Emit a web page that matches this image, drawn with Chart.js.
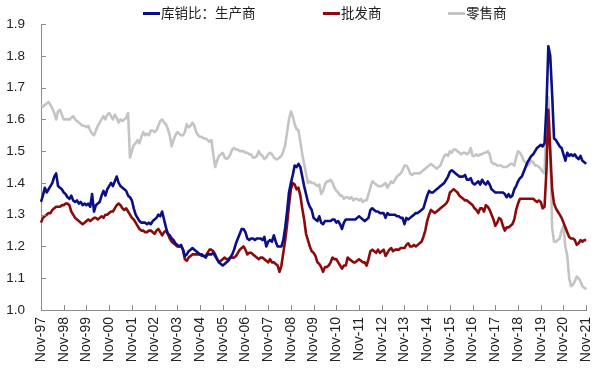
<!DOCTYPE html>
<html>
<head>
<meta charset="utf-8">
<script src="https://cdn.jsdelivr.net/npm/chart.js@4.4.1/dist/chart.umd.min.js"></script>
<style>
  body { margin: 0; background: #fff; }
  #wrap { position: relative; width: 610px; height: 372px; }
  #legend { position: absolute; left: 0; top: 4px; width: 610px; height: 18px;
            font-family: "Noto Sans CJK SC", sans-serif; font-size: 13.5px; color: #222; }
  .item { position: absolute; top: 0; display: flex; align-items: center; height: 18px; line-height: 1; }
  .item i { display: inline-block; width: 17px; height: 3px; margin-right: 1px; }
</style>
</head>
<body>
<div id="wrap">
  <canvas id="myChart" width="610" height="372"></canvas>
  <div id="legend"></div>
</div>
<script>
// monthly, Nov-97 .. Nov-21
const startYear = 1997;
const monthNames = ["Jan","Feb","Mar","Apr","May","Jun","Jul","Aug","Sep","Oct","Nov","Dec"];
const seriesNames = ["库销比：生产商", "批发商", "零售商"];
const yTicks = [1.0, 1.1, 1.2, 1.3, 1.4, 1.5, 1.6, 1.7, 1.8, 1.9];

const producer = [
  1.34,1.36,1.385,1.37,1.38,1.39,1.40,1.42,1.43,1.39,1.385,1.38,
  1.37,1.365,1.355,1.35,1.36,1.345,1.34,1.345,1.335,1.34,1.33,1.335,
  1.33,1.335,1.325,1.365,1.31,1.33,1.335,1.34,1.36,1.375,1.36,1.38,
  1.39,1.40,1.39,1.405,1.42,1.40,1.39,1.385,1.38,1.375,1.36,1.355,
  1.345,1.32,1.30,1.29,1.28,1.275,1.275,1.275,1.27,1.275,1.27,1.28,
  1.285,1.29,1.30,1.295,1.31,1.285,1.26,1.24,1.235,1.225,1.22,1.21,
  1.205,1.20,1.205,1.19,1.17,1.175,1.185,1.19,1.195,1.19,1.185,1.18,
  1.175,1.175,1.17,1.165,1.175,1.175,1.175,1.18,1.17,1.16,1.15,1.145,
  1.14,1.145,1.15,1.155,1.165,1.175,1.19,1.21,1.225,1.24,1.255,1.255,
  1.245,1.225,1.22,1.225,1.225,1.22,1.225,1.225,1.225,1.22,1.23,1.20,
  1.215,1.22,1.215,1.235,1.215,1.20,1.20,1.20,1.22,1.26,1.31,1.37,
  1.40,1.425,1.455,1.45,1.46,1.45,1.42,1.39,1.365,1.34,1.325,1.315,
  1.29,1.285,1.28,1.295,1.275,1.27,1.28,1.28,1.28,1.28,1.285,1.285,
  1.275,1.28,1.27,1.255,1.275,1.285,1.285,1.285,1.285,1.285,1.285,1.29,
  1.295,1.29,1.285,1.28,1.285,1.29,1.315,1.32,1.315,1.31,1.31,1.305,
  1.305,1.305,1.29,1.305,1.30,1.30,1.30,1.30,1.295,1.295,1.29,1.29,
  1.27,1.29,1.285,1.29,1.295,1.30,1.305,1.305,1.31,1.315,1.32,1.34,
  1.36,1.375,1.37,1.37,1.375,1.38,1.385,1.39,1.395,1.40,1.41,1.42,
  1.435,1.44,1.435,1.43,1.425,1.42,1.42,1.42,1.425,1.41,1.41,1.415,
  1.40,1.395,1.40,1.405,1.395,1.41,1.40,1.395,1.405,1.395,1.38,1.375,
  1.37,1.37,1.37,1.37,1.37,1.365,1.355,1.365,1.355,1.36,1.38,1.39,
  1.405,1.415,1.42,1.435,1.45,1.465,1.475,1.485,1.49,1.50,1.51,1.515,
  1.52,1.515,1.525,1.64,1.83,1.80,1.68,1.54,1.535,1.525,1.515,1.51,
  1.49,1.47,1.495,1.485,1.49,1.485,1.49,1.48,1.475,1.485,1.47,1.465,
  1.46
];

const wholesaler = [
  1.275,1.29,1.295,1.30,1.305,1.305,1.315,1.32,1.325,1.325,1.325,1.33,
  1.33,1.335,1.335,1.33,1.31,1.30,1.29,1.285,1.28,1.275,1.27,1.275,
  1.28,1.285,1.28,1.285,1.29,1.29,1.285,1.29,1.295,1.29,1.30,1.30,
  1.305,1.31,1.31,1.32,1.33,1.335,1.33,1.32,1.315,1.32,1.31,1.30,
  1.29,1.285,1.275,1.265,1.255,1.25,1.25,1.245,1.245,1.25,1.25,1.245,
  1.24,1.25,1.255,1.245,1.235,1.245,1.25,1.24,1.225,1.215,1.21,1.205,
  1.20,1.20,1.20,1.19,1.16,1.155,1.165,1.17,1.175,1.175,1.175,1.175,
  1.175,1.17,1.17,1.17,1.18,1.19,1.19,1.185,1.175,1.16,1.15,1.155,
  1.16,1.165,1.16,1.16,1.165,1.165,1.165,1.17,1.18,1.19,1.195,1.20,
  1.19,1.175,1.18,1.18,1.175,1.17,1.165,1.16,1.165,1.165,1.16,1.155,
  1.15,1.16,1.15,1.15,1.145,1.14,1.12,1.14,1.18,1.22,1.27,1.33,
  1.38,1.40,1.395,1.38,1.385,1.36,1.32,1.285,1.24,1.22,1.20,1.185,
  1.18,1.17,1.15,1.145,1.135,1.12,1.135,1.135,1.14,1.15,1.165,1.16,
  1.16,1.15,1.14,1.13,1.14,1.14,1.165,1.16,1.155,1.15,1.15,1.155,
  1.16,1.155,1.15,1.15,1.14,1.16,1.185,1.19,1.185,1.18,1.19,1.18,
  1.185,1.19,1.17,1.18,1.19,1.195,1.185,1.19,1.19,1.19,1.195,1.195,
  1.195,1.205,1.21,1.20,1.20,1.205,1.20,1.205,1.21,1.215,1.23,1.25,
  1.28,1.30,1.315,1.31,1.305,1.31,1.315,1.32,1.325,1.33,1.335,1.345,
  1.37,1.375,1.38,1.375,1.37,1.36,1.355,1.35,1.345,1.345,1.34,1.335,
  1.33,1.32,1.315,1.305,1.32,1.32,1.31,1.33,1.325,1.315,1.30,1.285,
  1.265,1.275,1.29,1.285,1.265,1.25,1.26,1.26,1.265,1.27,1.285,1.315,
  1.335,1.35,1.35,1.35,1.35,1.35,1.35,1.35,1.35,1.345,1.34,1.345,
  1.34,1.32,1.325,1.44,1.63,1.50,1.38,1.335,1.32,1.31,1.30,1.29,
  1.275,1.26,1.245,1.23,1.225,1.225,1.22,1.205,1.21,1.22,1.215,1.22,
  1.22
];

const retailer = [
  1.645,1.64,1.645,1.65,1.655,1.645,1.635,1.62,1.60,1.625,1.63,1.615,
  1.60,1.60,1.60,1.60,1.605,1.61,1.60,1.595,1.59,1.585,1.58,1.58,
  1.575,1.58,1.565,1.555,1.55,1.565,1.58,1.59,1.60,1.61,1.60,1.615,
  1.62,1.61,1.60,1.615,1.605,1.59,1.60,1.595,1.60,1.605,1.62,1.48,
  1.50,1.52,1.525,1.535,1.525,1.545,1.56,1.55,1.555,1.55,1.565,1.565,
  1.56,1.565,1.58,1.595,1.60,1.59,1.585,1.57,1.55,1.515,1.535,1.55,
  1.56,1.555,1.55,1.55,1.56,1.585,1.575,1.58,1.59,1.58,1.56,1.55,
  1.545,1.545,1.54,1.54,1.535,1.53,1.535,1.49,1.45,1.47,1.485,1.49,
  1.495,1.48,1.475,1.48,1.49,1.505,1.51,1.505,1.505,1.50,1.50,1.50,
  1.495,1.495,1.49,1.49,1.48,1.48,1.485,1.50,1.49,1.485,1.475,1.48,
  1.49,1.495,1.49,1.48,1.475,1.475,1.48,1.485,1.50,1.52,1.56,1.60,
  1.625,1.61,1.585,1.57,1.565,1.53,1.49,1.46,1.43,1.40,1.405,1.40,
  1.40,1.395,1.39,1.395,1.365,1.375,1.395,1.405,1.405,1.41,1.40,1.385,
  1.375,1.37,1.36,1.36,1.35,1.355,1.355,1.35,1.355,1.345,1.35,1.35,
  1.345,1.35,1.34,1.345,1.345,1.365,1.385,1.405,1.40,1.395,1.39,1.39,
  1.39,1.395,1.40,1.385,1.395,1.405,1.40,1.41,1.42,1.425,1.43,1.44,
  1.455,1.455,1.445,1.43,1.425,1.43,1.43,1.43,1.43,1.435,1.44,1.445,
  1.45,1.455,1.46,1.455,1.45,1.445,1.45,1.455,1.47,1.485,1.49,1.485,
  1.50,1.495,1.505,1.505,1.50,1.495,1.49,1.495,1.495,1.49,1.495,1.51,
  1.485,1.485,1.49,1.485,1.49,1.49,1.495,1.495,1.50,1.49,1.465,1.46,
  1.46,1.455,1.455,1.455,1.45,1.45,1.45,1.455,1.46,1.46,1.455,1.48,
  1.50,1.495,1.485,1.47,1.465,1.455,1.46,1.47,1.465,1.455,1.455,1.45,
  1.445,1.435,1.43,1.60,1.67,1.50,1.26,1.215,1.215,1.22,1.225,1.25,
  1.265,1.20,1.17,1.10,1.075,1.08,1.09,1.105,1.10,1.09,1.075,1.07,
  1.065
];

const colors = ["#0b0f85", "#8c0a0a", "#c4c4c4"];

// month labels, only the Nov ones get printed
const labels = producer.map((v, i) => {
  const m = (10 + i) % 12;
  const y = startYear + Math.floor((10 + i) / 12);
  return monthNames[m] + "-" + String(y).slice(2);
});

// html legend
const legendBox = document.getElementById("legend");
const legendLeft = [143, 323, 448];
seriesNames.forEach((name, i) => {
  const el = document.createElement("div");
  el.className = "item";
  el.style.left = legendLeft[i] + "px";
  el.innerHTML = '<i style="background:' + colors[i] + '"></i><span>' + name + '</span>';
  legendBox.appendChild(el);
});

// inward tick marks like the original
const innerTicks = {
  id: "innerTicks",
  afterDraw(chart) {
    const ctx = chart.ctx;
    const x = chart.scales.x, y = chart.scales.y;
    const area = chart.chartArea;
    ctx.save();
    ctx.strokeStyle = "#8c8c8c";
    ctx.lineWidth = 1;
    ctx.beginPath();
    labels.forEach((l, i) => {
      if (i % 12 !== 0) return;
      const px = Math.round(x.getPixelForValue(i)) + 0.5;
      ctx.moveTo(px, area.bottom);
      ctx.lineTo(px, area.bottom - 5);
    });
    yTicks.forEach(t => {
      const py = Math.round(y.getPixelForValue(t)) + 0.5;
      ctx.moveTo(area.left, py);
      ctx.lineTo(area.left + 5, py);
    });
    ctx.stroke();
    ctx.restore();
  }
};

const datasets = [producer, wholesaler, retailer].map((d, i) => ({
  label: seriesNames[i],
  data: d,
  borderColor: colors[i],
  backgroundColor: colors[i],
  borderWidth: 2.6,
  pointRadius: 0,
  tension: 0,
  borderJoinStyle: "round"
}));

new Chart(document.getElementById("myChart"), {
  type: "line",
  data: { labels: labels, datasets: datasets },
  plugins: [innerTicks],
  options: {
    responsive: false,
    animation: false,
    layout: { padding: { top: 23, right: 12, left: 0, bottom: 0 } },
    plugins: { legend: { display: false }, tooltip: { enabled: false } },
    scales: {
      x: {
        offset: false,
        grid: { display: false, drawTicks: false },
        border: { display: true, color: "#8c8c8c", width: 1 },
        ticks: {
          autoSkip: false,
          maxRotation: 90,
          minRotation: 90,
          padding: 7,
          color: "#222",
          font: { family: "Liberation Sans, Arial", size: 14 },
          callback: (v, i) => (i % 12 === 0 ? labels[i] : null)
        },
        afterFit: s => { s.height = 62; }
      },
      y: {
        min: 1.0,
        max: 1.9,
        afterBuildTicks: s => { s.ticks = yTicks.map(v => ({ value: v })); },
        grid: { display: false, drawTicks: false },
        border: { display: true, color: "#8c8c8c", width: 1 },
        ticks: {
          padding: 16,
          color: "#222",
          font: { family: "Liberation Sans, Arial", size: 13.5 },
          callback: v => v.toFixed(1)
        },
        afterFit: s => { s.width = 41; }
      }
    }
  }
});
</script>
</body>
</html>
